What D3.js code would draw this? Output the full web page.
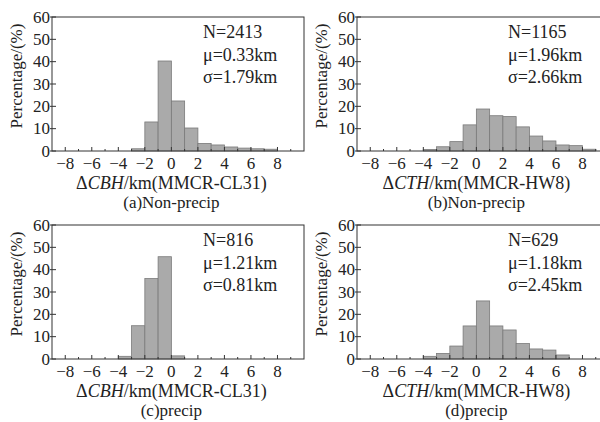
<!DOCTYPE html>
<html>
<head>
<meta charset="utf-8">
<script src="https://cdn.jsdelivr.net/npm/d3@7"></script>
<style>
  body { margin: 0; background: #fff; }
  svg text { font-family: "Liberation Serif", "Times New Roman", serif; fill: #222; }
</style>
</head>
<body>
<svg id="chart" width="600" height="422"></svg>
<script>
// left edges of the 1 km bins
const binEdges = [-4, -3, -2, -1, 0, 1, 2, 3, 4, 5, 6, 7, 8];

// percentages, one per bin
const cbhNonPrecip = [0, 1.0, 13.0, 40.3, 22.4, 10.3, 3.4, 2.7, 1.8, 1.3, 1.0, 0.8, 0];
const cthNonPrecip = [0.7, 1.9, 4.2, 11.7, 18.8, 15.8, 15.4, 10.8, 6.7, 4.5, 2.7, 2.4, 0.8];
const cbhPrecip = [1.2, 14.9, 36.0, 45.8, 1.4, 0, 0, 0, 0, 0, 0, 0, 0];
const cthPrecip = [1.2, 2.5, 5.8, 14.8, 26.0, 14.8, 13.0, 6.9, 4.5, 4.0, 1.8, 0, 0];

const xTicks = [-8, -6, -4, -2, 0, 2, 4, 6, 8];
const xMinor = [-7, -5, -3, -1, 1, 3, 5, 7, 9];
const yTicks = [0, 10, 20, 30, 40, 50, 60];

const panels = [
  {vals: cbhNonPrecip, left: 52, top: 17, var: "CBH", inst: "MMCR-CL31", cap: "(a)Non-precip",
   stats: ["N=2413", "\u03bc=0.33km", "\u03c3=1.79km"]},
  {vals: cthNonPrecip, left: 357, top: 17, var: "CTH", inst: "MMCR-HW8", cap: "(b)Non-precip",
   stats: ["N=1165", "\u03bc=1.96km", "\u03c3=2.66km"]},
  {vals: cbhPrecip, left: 52, top: 225, var: "CBH", inst: "MMCR-CL31", cap: "(c)precip",
   stats: ["N=816", "\u03bc=1.21km", "\u03c3=0.81km"]},
  {vals: cthPrecip, left: 357, top: 225, var: "CTH", inst: "MMCR-HW8", cap: "(d)precip",
   stats: ["N=629", "\u03bc=1.18km", "\u03c3=2.45km"]}
];

const W = 252, H = 134;
const svg = d3.select("#chart");

panels.forEach(p => {
  const g = svg.append("g").attr("transform", `translate(${p.left},${p.top})`);
  const x = d3.scaleLinear().domain([-9, 10]).range([0, W]);
  const y = d3.scaleLinear().domain([0, 60]).range([H, 0]);

  // bars
  g.selectAll("rect.bar").data(binEdges.map((e, i) => ({x0: e, v: p.vals[i]})).filter(d => d.v > 0))
    .join("rect")
    .attr("class", "bar")
    .attr("x", d => x(d.x0))
    .attr("width", d => x(d.x0 + 1) - x(d.x0))
    .attr("y", d => y(d.v))
    .attr("height", d => H - y(d.v))
    .attr("fill", "#aaaaaa")
    .attr("stroke", "#7a7a7a")
    .attr("stroke-width", 0.8);

  // frame
  g.append("rect").attr("width", W).attr("height", H)
    .attr("fill", "none").attr("stroke", "#333").attr("stroke-width", 1);

  // x axis ticks (inward)
  g.selectAll("line.xt").data(xTicks).join("line")
    .attr("x1", d => x(d)).attr("x2", d => x(d))
    .attr("y1", H).attr("y2", H - 4)
    .attr("stroke", "#333");
  g.selectAll("line.xm").data(xMinor).join("line")
    .attr("x1", d => x(d)).attr("x2", d => x(d))
    .attr("y1", H).attr("y2", H - 2)
    .attr("stroke", "#333");
  g.selectAll("text.xl").data(xTicks).join("text")
    .attr("x", d => x(d)).attr("y", H + 18)
    .attr("text-anchor", "middle")
    .attr("font-size", 17)
    .text(d => d3.format("")(d));

  // y axis ticks
  g.selectAll("line.yt").data(yTicks).join("line")
    .attr("x1", -2).attr("x2", 4)
    .attr("y1", d => y(d)).attr("y2", d => y(d))
    .attr("stroke", "#333");
  g.selectAll("text.yl").data(yTicks).join("text")
    .attr("x", -2).attr("y", d => y(d) + 5.5)
    .attr("text-anchor", "end")
    .attr("font-size", 17)
    .text(d => d);

  // y label
  g.append("text")
    .attr("transform", `translate(-30,${H / 2 - 8}) rotate(-90)`)
    .attr("text-anchor", "middle")
    .attr("font-size", 17)
    .text("Percentage/(%)");

  // x label
  const xl = g.append("text")
    .attr("x", x(0)).attr("y", H + 38)
    .attr("text-anchor", "middle")
    .attr("font-size", 18);
  xl.append("tspan").text("\u0394");
  xl.append("tspan").attr("font-style", "italic").text(p.var);
  xl.append("tspan").text(`/km(${p.inst})`);

  // caption
  g.append("text")
    .attr("x", x(0)).attr("y", H + 57)
    .attr("text-anchor", "middle")
    .attr("font-size", 17)
    .text(p.cap);

  // stats
  g.selectAll("text.st").data(p.stats).join("text")
    .attr("x", 151).attr("y", (d, i) => 21 + i * 22.5)
    .attr("font-size", 18)
    .text(d => d);
});
</script>
</body>
</html>
